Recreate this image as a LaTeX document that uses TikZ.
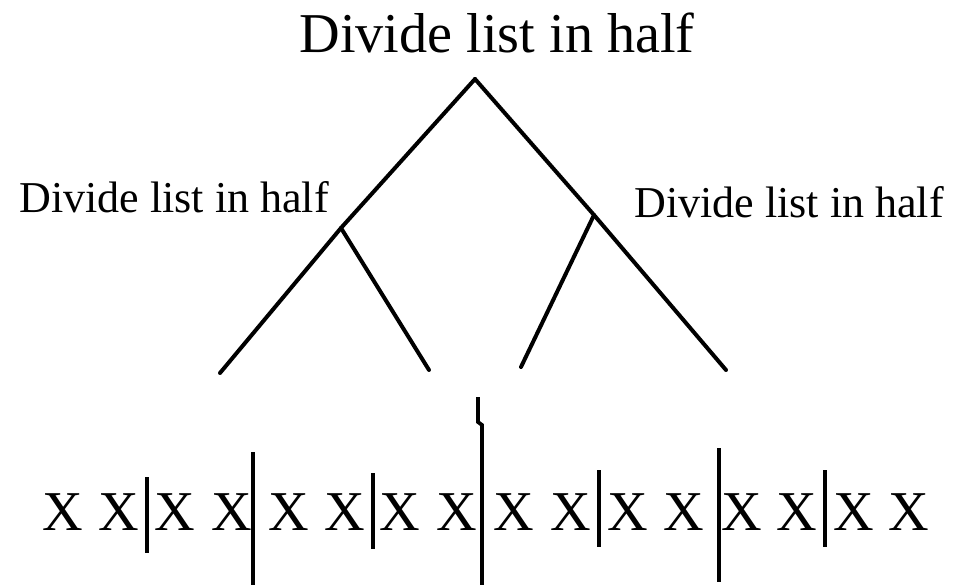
\documentclass[tikz,border=0pt]{standalone}
\usepackage{fontspec}
\setmainfont{Liberation Serif}
\usetikzlibrary{positioning}

\begin{document}
\begin{tikzpicture}[x=0.03cm,y=-0.03cm,
  every node/.style={inner sep=0pt,anchor=base},
  branch/.style={line width=3.4pt,line cap=round},
  bar/.style={line width=3.2pt},
  titletext/.style={font=\fontsize{48}{56}\selectfont},
  labeltext/.style={font=\fontsize{37.6}{44}\selectfont},
  xtext/.style={font=\fontsize{48}{56}\selectfont}]
\useasboundingbox (0,0) rectangle (967,585);
% tree
\coordinate (root) at (475,79);
\coordinate (lc) at (341,228);
\coordinate (rc) at (594,215);
\coordinate (l1) at (220,373);
\coordinate (l2) at (429,370);
\coordinate (l3) at (521,367);
\coordinate (l4) at (726,370);
\draw[branch] (root)--(lc)--(l1);
\draw[branch] (root)--(rc)--(l4);
\draw[branch] (lc)--(l2);
\draw[branch] (rc)--(l3);
\node[titletext] (top) at (497,52) {Divide list in half};
\node[labeltext] (lefthalf) at (174,212) {Divide list in half};
\node[labeltext] (righthalf) at (789,217) {Divide list in half};
% list of X
\foreach \i/\cx in {1/62.5,2/119,3/175,4/231.5,5/288.5,6/345,7/400,8/456.5,
  9/514,10/571,11/627.5,12/683.5,13/741.5,14/796.5,15/853.5,16/909}
  \node[xtext] (x\i) at (\cx,530) {X};
% split bars
\foreach \i/\bx/\ya/\yb in {1/147/477/553,2/253/452/586,3/373/473/549,
  5/599/470/547,6/719/448/582,7/825/470/547} {
  \coordinate (b\i t) at (\bx,\ya);
  \coordinate (b\i b) at (\bx,\yb);
  \draw[bar] (b\i t)--(b\i b);
}
\coordinate (b4t) at (478,397);
\coordinate (b4m) at (478,422);
\coordinate (b4n) at (482,425);
\coordinate (b4b) at (482,586);
\draw[bar] (b4t)--(b4m)--(b4n)--(b4b);
\end{tikzpicture}
\end{document}
